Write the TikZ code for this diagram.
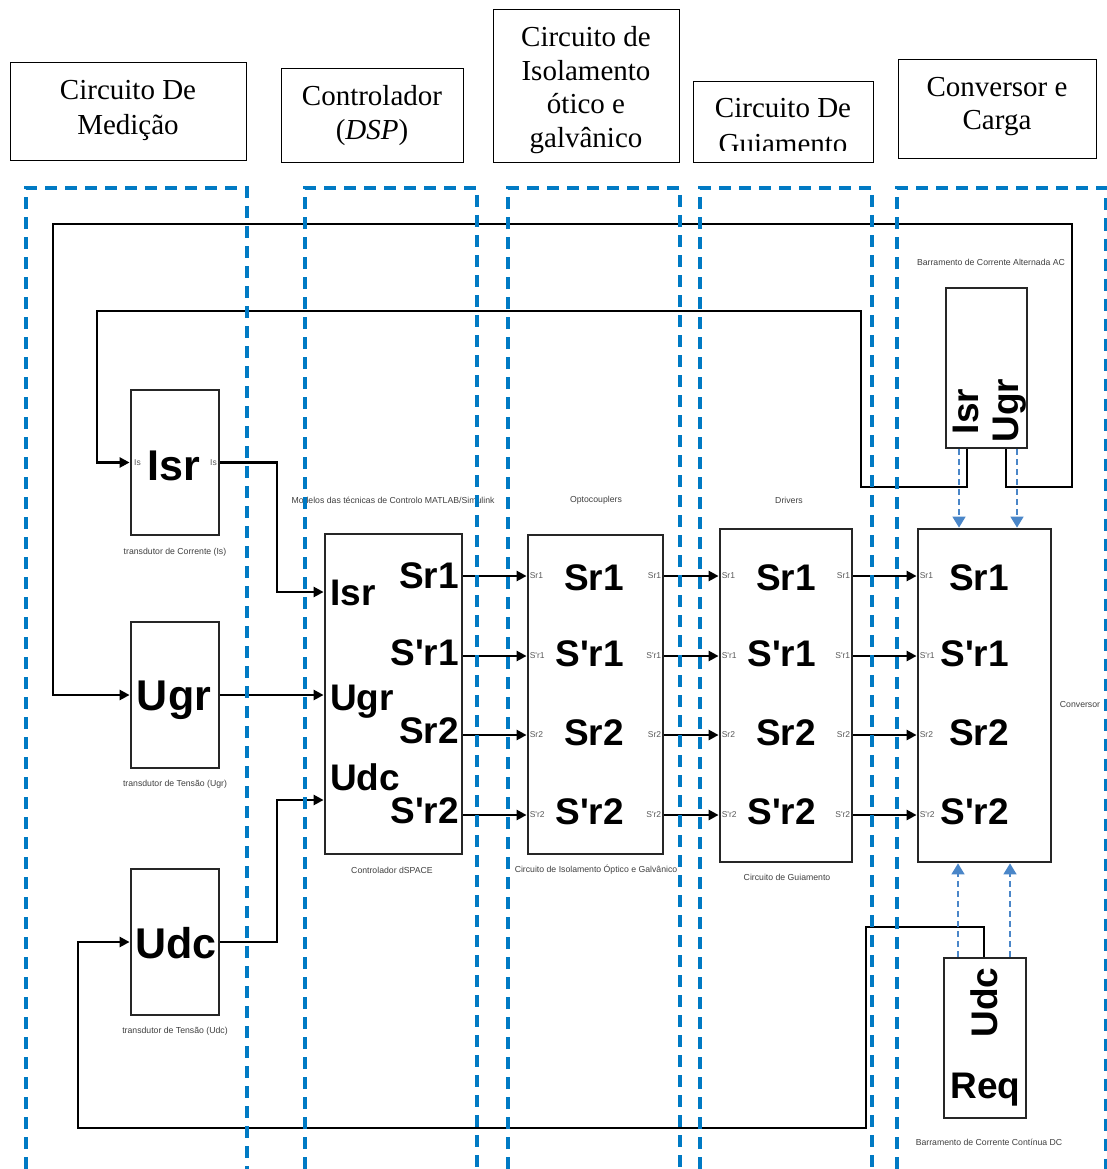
\documentclass[tikz,border=0pt]{standalone}
\usepackage{fontspec}
\setmainfont{Liberation Serif}
\newfontfamily\arialf{Liberation Sans}
\usetikzlibrary{arrows.meta}
\definecolor{colblue}{RGB}{0,122,196}
\definecolor{busblue}{RGB}{74,134,200}
\begin{document}
\begin{tikzpicture}[x=1pt,y=-1pt,
 hdrbox/.style={draw=black,line width=0.9pt,inner sep=0pt},
 hdr/.style={font=\fontsize{29}{35}\selectfont,anchor=base,inner sep=0pt},
 blk/.style={draw=black!85,line width=2.8pt,inner sep=0pt},
 bigl/.style={font=\arialf\bfseries\fontsize{37}{37}\selectfont,inner sep=0pt},
 sensl/.style={font=\arialf\bfseries\fontsize{43}{43}\selectfont,inner sep=0pt},
 capt/.style={font=\arialf\fontsize{8.7}{9}\selectfont,text=black!75,inner sep=0pt},
 portl/.style={font=\arialf\fontsize{8.5}{9}\selectfont,text=black!65,inner sep=0pt},
 wire/.style={draw=black,line width=2.8pt},
 arr/.style={wire,-{Triangle[length=10pt,width=10pt]}},
 col/.style={draw=colblue,line width=3.4pt,dash pattern=on 12pt off 8pt},
 bus/.style={draw=busblue,line width=1.6pt,dash pattern=on 6pt off 4pt,-{Triangle[length=11pt,width=13pt]}},
]
\useasboundingbox (0,0) rectangle (1106,1169);
\fill[white] (0,0) rectangle (1106,1169);

% ---------- headers ----------
\node[hdrbox,minimum width=236pt,minimum height=98pt] (h1) at (128,111.5) {};
\node[hdr] (h1a) at (128,100) {Circuito De};
\node[hdr] (h1b) at (128,135) {Medição};

\node[hdrbox,minimum width=182pt,minimum height=94pt] (h2) at (372,115) {};
\node[hdr] (h2a) at (372,106) {Controlador};
\node[hdr] (h2b) at (372,140) {(\textit{DSP})};

\node[hdrbox,minimum width=186pt,minimum height=153pt] (h3) at (586,85.5) {};
\node[hdr] (h3a) at (586,47) {Circuito de};
\node[hdr] (h3b) at (586,81) {Isolamento};
\node[hdr] (h3c) at (586,114) {ótico e};
\node[hdr] (h3d) at (586,148) {galvânico};

\node[hdrbox,minimum width=180pt,minimum height=81pt] (h4) at (783,121.5) {};
\begin{scope}
\clip (694,82) rectangle (872,151);
\node[hdr] (h4a) at (783,118) {Circuito De};
\node[hdr] (h4b) at (783,154) {Guiamento};
\end{scope}

\node[hdrbox,minimum width=198pt,minimum height=99pt] (h5) at (997,108.5) {};
\node[hdr] (h5a) at (997,97) {Conversor e};
\node[hdr] (h5b) at (997,130) {Carga};

% ---------- port rows ----------
\coordinate (r1) at (0,576);
\coordinate (r2) at (0,656);
\coordinate (r3) at (0,735);
\coordinate (r4) at (0,815);
\coordinate (ci1) at (0,592);
\coordinate (ci3) at (0,800);

% ---------- sensor blocks ----------
\node[blk,minimum width=88pt,minimum height=145pt] (sI) at (175,462.5) {};
\node[sensl,anchor=base] (sIt) at (174,480) {Isr};
\node[portl,anchor=west] (sIi) at (134,463) {Is};
\node[portl,anchor=east] (sIo) at (217,463) {Is};
\node[capt] (sIc) at (175,552) {transdutor de Corrente (Is)};

\node[blk,minimum width=88pt,minimum height=146pt] (sU) at (175,695) {};
\node[sensl,anchor=base] (sUt) at (174,710) {Ugr};
\node[capt] (sUc) at (175,784) {transdutor de Tensão (Ugr)};

\node[blk,minimum width=88pt,minimum height=146pt] (sD) at (175,942) {};
\node[sensl,anchor=base] (sDt) at (176,958) {Udc};
\node[capt] (sDc) at (175,1031) {transdutor de Tensão (Udc)};

% ---------- controller ----------
\node[blk,minimum width=137pt,minimum height=320pt] (ctl) at (393.5,694) {};
\node[capt] (ctlt) at (393,500) {Modelos das técnicas de Controlo MATLAB/Simulink};
\node[capt] (ctlc) at (392,870) {Controlador dSPACE};
\node[bigl,anchor=base west] (cI) at (330,605) {Isr};
\node[bigl,anchor=base west] (cU) at (330,710) {Ugr};
\node[bigl,anchor=base west] (cD) at (330,790) {Udc};
\node[bigl,anchor=base east] (c1) at (459,588) {Sr1};
\node[bigl,anchor=base east] (c2) at (459,665) {S'r1};
\node[bigl,anchor=base east] (c3) at (459,743) {Sr2};
\node[bigl,anchor=base east] (c4) at (459,823) {S'r2};

% ---------- optocouplers ----------
\node[blk,minimum width=135pt,minimum height=319pt] (opt) at (595.5,694.5) {};
\node[capt] (optt) at (596,500) {Optocouplers};
\node[capt] (optc) at (596,870) {Circuito de Isolamento Óptico e Galvânico};
\node[bigl,anchor=base east] (o1) at (624,590) {Sr1};
\node[bigl,anchor=base east] (o2) at (624,666) {S'r1};
\node[bigl,anchor=base east] (o3) at (624,745) {Sr2};
\node[bigl,anchor=base east] (o4) at (624,824) {S'r2};
\node[portl,anchor=west] (oi1) at (opt.west |- r1) [xshift=3pt] {Sr1};
\node[portl,anchor=west] (oi2) at (opt.west |- r2) [xshift=3pt] {S'r1};
\node[portl,anchor=west] (oi3) at (opt.west |- r3) [xshift=3pt] {Sr2};
\node[portl,anchor=west] (oi4) at (opt.west |- r4) [xshift=3pt] {S'r2};
\node[portl,anchor=east] (oo1) at (opt.east |- r1) [xshift=-3pt] {Sr1};
\node[portl,anchor=east] (oo2) at (opt.east |- r2) [xshift=-3pt] {S'r1};
\node[portl,anchor=east] (oo3) at (opt.east |- r3) [xshift=-3pt] {Sr2};
\node[portl,anchor=east] (oo4) at (opt.east |- r4) [xshift=-3pt] {S'r2};

% ---------- drivers ----------
\node[blk,minimum width=132pt,minimum height=333pt] (drv) at (786,695.5) {};
\node[capt] (drvt) at (789,500) {Drivers};
\node[capt] (drvc) at (787,877) {Circuito de Guiamento};
\node[bigl,anchor=base east] (d1) at (816,590) {Sr1};
\node[bigl,anchor=base east] (d2) at (816,666) {S'r1};
\node[bigl,anchor=base east] (d3) at (816,745) {Sr2};
\node[bigl,anchor=base east] (d4) at (816,824) {S'r2};
\node[portl,anchor=west] (di1) at (drv.west |- r1) [xshift=3pt] {Sr1};
\node[portl,anchor=west] (di2) at (drv.west |- r2) [xshift=3pt] {S'r1};
\node[portl,anchor=west] (di3) at (drv.west |- r3) [xshift=3pt] {Sr2};
\node[portl,anchor=west] (di4) at (drv.west |- r4) [xshift=3pt] {S'r2};
\node[portl,anchor=east] (do1) at (drv.east |- r1) [xshift=-3pt] {Sr1};
\node[portl,anchor=east] (do2) at (drv.east |- r2) [xshift=-3pt] {S'r1};
\node[portl,anchor=east] (do3) at (drv.east |- r3) [xshift=-3pt] {Sr2};
\node[portl,anchor=east] (do4) at (drv.east |- r4) [xshift=-3pt] {S'r2};

% ---------- conversor ----------
\node[blk,minimum width=133pt,minimum height=333pt] (cnv) at (984.5,695.5) {};
\node[capt] (cnvc) at (1080,704) {Conversor};
\node[bigl,anchor=base east] (v1) at (1009,590) {Sr1};
\node[bigl,anchor=base east] (v2) at (1009,666) {S'r1};
\node[bigl,anchor=base east] (v3) at (1009,745) {Sr2};
\node[bigl,anchor=base east] (v4) at (1009,824) {S'r2};
\node[portl,anchor=west] (vi1) at (cnv.west |- r1) [xshift=3pt] {Sr1};
\node[portl,anchor=west] (vi2) at (cnv.west |- r2) [xshift=3pt] {S'r1};
\node[portl,anchor=west] (vi3) at (cnv.west |- r3) [xshift=3pt] {Sr2};
\node[portl,anchor=west] (vi4) at (cnv.west |- r4) [xshift=3pt] {S'r2};

% ---------- AC bus ----------
\node[blk,minimum width=81pt,minimum height=160pt] (ac) at (986.5,368) {};
\node[capt] (acc) at (991,262) {Barramento de Corrente Alternada AC};
\node[bigl,rotate=90,anchor=base] (acI) at (978,411.5) {Isr};
\node[bigl,rotate=90,anchor=base] (acU) at (1018,410.5) {Ugr};

% ---------- DC bus ----------
\node[blk,minimum width=82pt,minimum height=160pt] (dc) at (985,1038) {};
\node[capt] (dcc) at (989,1142) {Barramento de Corrente Contínua DC};
\node[bigl,rotate=90,anchor=base] (dcU) at (997,1002.5) {Udc};
\node[bigl,anchor=base] (dcR) at (985.5,1098) {Req};

% ---------- bus coordinates ----------
\coordinate (xa1) at (967,0);
\coordinate (xa2) at (1006,0);
\coordinate (xb1) at (959,0);
\coordinate (xb2) at (1017,0);
\coordinate (xd0) at (984,0);
\coordinate (xd1) at (958,0);
\coordinate (xd2) at (1010,0);

% ---------- feedback wires ----------
\draw[arr] (ac.south -| xa2) |- (1072,487) |- (53,224) |- (sU.west);
\draw[arr] (ac.south -| xa1) |- (861,487) |- (97,311) |- (sI.west);
\draw[arr] (dc.north -| xd0) |- (866,927) |- (78,1128) |- (sD.west);

% ---------- sensor to controller ----------
\draw[arr] (sI.east) -| (277,592) -- (ctl.west |- ci1);
\draw[arr] (sU.east) -- (ctl.west |- sU.east);
\draw[arr] (sD.east) -| (277,800) -- (ctl.west |- ci3);

% ---------- signal chain ----------
\foreach \r in {r1,r2,r3,r4}{
  \draw[arr] (ctl.east |- \r) -- (opt.west |- \r);
  \draw[arr] (opt.east |- \r) -- (drv.west |- \r);
  \draw[arr] (drv.east |- \r) -- (cnv.west |- \r);
}

% ---------- bus measurement arrows ----------
\draw[bus] (ac.south -| xb1) -- (cnv.north -| xb1);
\draw[bus] (ac.south -| xb2) -- (cnv.north -| xb2);
\draw[bus] (dc.north -| xd1) -- (cnv.south -| xd1);
\draw[bus] (dc.north -| xd2) -- (cnv.south -| xd2);

% ---------- dashed regions ----------
\draw[col] (26,1169) -- (26,188) -- (247,188) -- (247,1169);
\draw[col] (305,1169) -- (305,188) -- (477,188) -- (477,1169);
\draw[col] (508,1169) -- (508,188) -- (680,188) -- (680,1169);
\draw[col] (700,1169) -- (700,188) -- (872,188) -- (872,1169);
\draw[col] (897,1169) -- (897,188) -- (1105.5,188) -- (1105.5,1169);
\end{tikzpicture}
\end{document}
